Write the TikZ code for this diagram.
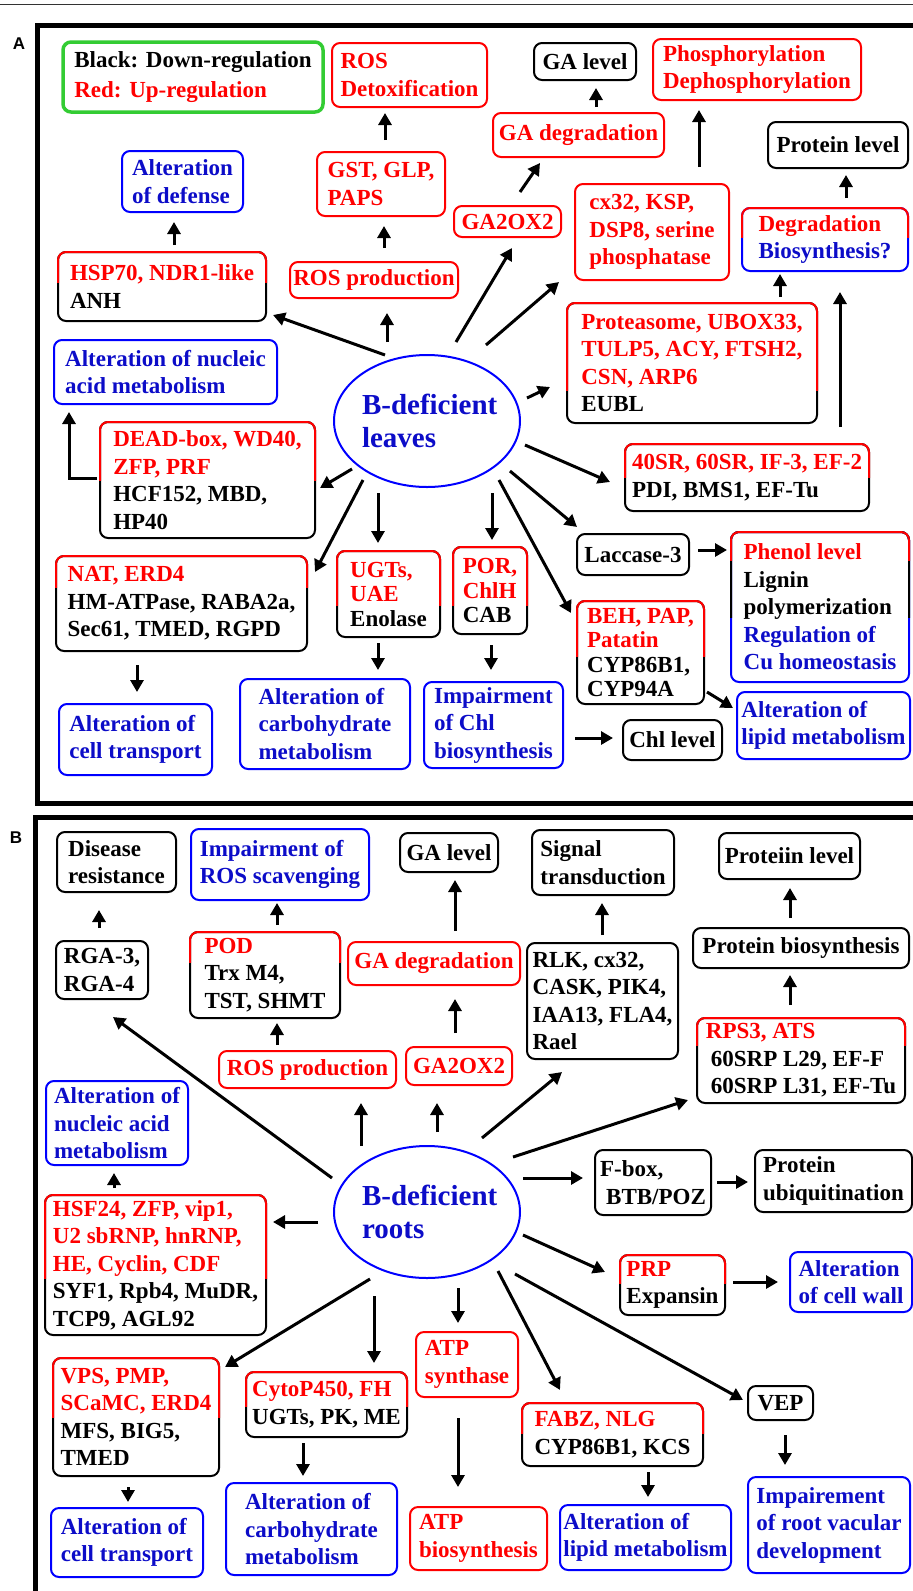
\documentclass[tikz,border=0pt]{standalone}
\usepackage{fontspec}
\setmainfont{Liberation Serif}
\newfontfamily\labfont{Liberation Sans}
\usepackage{tikz}
\usetikzlibrary{arrows.meta,shapes.geometric}
\definecolor{fgRed}{HTML}{FF0000}
\definecolor{fgBlue}{HTML}{0000FF}
\definecolor{fgNavy}{HTML}{0C0CC8}
\definecolor{fgGreen}{HTML}{33CC33}
\newcommand{\rtxt}[1]{\textcolor{fgRed}{#1}}
% recolour the upper part of a box border, down to a given y
\newcommand{\edgetop}[3]{%
  \begin{scope}
    \clip (-10,-10) rectangle (930,#2);
    \draw[rim, #3] (#1.south west) rectangle (#1.north east);
  \end{scope}}

\begin{document}
\begin{tikzpicture}[x=1pt, y=-1pt, font=\fontsize{23}{27.5}\selectfont\bfseries,
  rim/.style={line width=2pt, rounded corners=8pt},
  bx/.style={draw, rim, outer sep=0pt, inner xsep=3pt, inner ysep=1pt, align=left},
  rbx/.style={bx, draw=fgRed, text=fgRed},
  bbx/.style={bx, draw=fgBlue, text=fgNavy},
  kbx/.style={bx, draw=black},
  tight/.style={font=\fontsize{23}{24.5}\selectfont\bfseries},
  sz/.style 2 args={minimum width=#1pt, minimum height=#2pt},
  src/.style={ellipse, draw=fgBlue, line width=2pt, text=fgNavy, align=left, text width=130pt,
    font=\fontsize{29}{33}\selectfont\bfseries, minimum width=186pt, minimum height=132pt,
    inner sep=0pt, outer sep=0pt},
  panel/.style={font=\fontsize{17}{17}\selectfont\labfont\bfseries},
  arr/.style={line width=3pt, -{Triangle[width=13pt,length=12pt]}},
  frame/.style={line width=5pt}]
  \useasboundingbox (0,0) rectangle (913,1591);
  \clip (0,0) rectangle (913,1591);
  \draw[line width=1pt, black!80] (0,4.5) -- (913,4.5);

  % ---------------- panel A: leaves
  \draw[frame] (37.5,25) rectangle (930,803);
  \node[panel] (labA) at (19,44) {A};
  \node[kbx, draw=fgGreen, line width=3.5pt, sz={260}{70}] (legend) at (193,77) {Black: Down-regulation\\[3pt]\rtxt{Red: Up-regulation}};
  \node[rbx, sz={155}{64}] (rosdet) at (409.5,75) {ROS\\Detoxification};
  \node[bbx, sz={121}{61}] (defense) at (182.5,181.5) {Alteration\\of defense};
  \node[rbx, sz={128}{64}] (gst) at (381,184) {GST, GLP,\\PAPS};
  \node[kbx, sz={208}{69}] (hsp) at (162,286.5) {\rtxt{HSP70, NDR1-like}\\ANH};
  \node[rbx, sz={168}{36}] (rosprod) at (374,280) {ROS production};
  \node[bbx, sz={223}{64}] (nucA) at (165.5,372) {Alteration of nucleic\\acid metabolism};
  \node[src] (leaves) at (427,421) {\mbox{B-deficient}\\leaves};
  \node[kbx, sz={102}{37}] (galev) at (585,61.5) {GA level};
  \node[rbx, sz={208}{61}] (phos) at (757,69.5) {Phosphorylation\\Dephosphorylation};
  \node[rbx, sz={171}{44}] (gadeg) at (578.5,135) {GA degradation};
  \node[kbx, sz={140}{46}] (protlev) at (838,145) {Protein level};
  \node[rbx, sz={107}{31}] (ga2ox) at (507.5,221.5) {GA2OX2};
  \node[rbx, sz={154}{96}] (cx) at (652,232) {cx32, KSP,\\DSP8, serine\\phosphatase};
  \node[bbx, sz={166}{63}] (degr) at (825,239.5) {\rtxt{Degradation}\\Biosynthesis?};
  \node[kbx, sz={250}{120}] (protea) at (692,363) {\rtxt{Proteasome, UBOX33,}\\\rtxt{TULP5, ACY, FTSH2,}\\\rtxt{CSN, ARP6}\\EUBL};
  \node[kbx, sz={244}{67}] (forty) at (747,477.5) {\rtxt{40SR, 60SR, IF-3, EF-2}\\PDI, BMS1, EF-Tu};
  \node[kbx, sz={112}{41}] (lacc) at (633,554.5) {Laccase-3};
  \node[bbx, sz={178}{150}] (phenol) at (820,607) {\rtxt{Phenol level}\\\textcolor{black}{Lignin}\\\textcolor{black}{polymerization}\\Regulation of\\Cu homeostasis};
  \node[kbx, tight, sz={74}{87}] (por) at (490,590.5) {\rtxt{POR,}\\\rtxt{ChlH}\\CAB};
  \node[kbx, tight, sz={127}{103}] (beh) at (640.5,652.5) {\rtxt{BEH, PAP,}\\\rtxt{Patatin}\\CYP86B1,\\CYP94A};
  \node[bbx, sz={173}{67}] (lipA) at (823.5,725.5) {Alteration of\\lipid metabolism};
  \node[kbx, sz={99}{40}] (chllev) at (672.5,740) {Chl level};
  \node[bbx, sz={139}{86}] (impChl) at (493.5,725) {Impairment\\of Chl\\biosynthesis};
  \node[kbx, sz={215}{116}] (dead) at (207.5,480) {\rtxt{DEAD-box, WD40,}\\\rtxt{ZFP, PRF}\\HCF152, MBD,\\HP40};
  \node[kbx, sz={251}{95}] (nat) at (181.5,603.5) {\rtxt{NAT, ERD4}\\HM-ATPase, RABA2a,\\Sec61, TMED, RGPD};
  \node[kbx, tight, sz={103}{86}] (ugt) at (388.5,594) {\rtxt{UGTs,}\\\rtxt{UAE}\\Enolase};
  \node[bbx, sz={153}{71}] (transA) at (135.5,739.5) {Alteration of\\cell transport};
  \node[bbx, sz={170}{90}] (carbA) at (325,724) {Alteration of\\carbohydrate\\metabolism};

  \edgetop{hsp}{282}{fgRed}
  \edgetop{degr}{237}{fgRed}
  \edgetop{protea}{390}{fgRed}
  \edgetop{forty}{477}{fgRed}
  \edgetop{phenol}{617}{black}
  \edgetop{phenol}{560}{fgRed}
  \edgetop{por}{605}{fgRed}
  \edgetop{beh}{656}{fgRed}
  \edgetop{dead}{480}{fgRed}
  \edgetop{nat}{587}{fgRed}
  \edgetop{ugt}{605}{fgRed}

  \draw[arr] ([shift={(-42,0)}]leaves.north) -- ([shift={(7,-6)}]hsp.south east);
  \draw[arr] ([shift={(-40,-13)}]leaves.north) -- ([shift={(13,15)}]rosprod.south);
  \draw[arr] ([shift={(10,-14)}]rosprod.north) -- ([shift={(3,10)}]gst.south);
  \draw[arr] ([shift={(4,-12)}]gst.north) -- ([shift={(-24.5,6)}]rosdet.south);
  \draw[arr] ([shift={(12,-7)}]hsp.north) -- ([shift={(-8.5,10)}]defense.south);
  \draw[arr] ([shift={(29,-13)}]leaves.north) -- ([shift={(4.5,11)}]ga2ox.south);
  \draw[arr] ([shift={(12.5,-14)}]ga2ox.north) -- ([shift={(-38.5,6)}]gadeg.south);
  \draw[arr] ([shift={(17.5,-6)}]gadeg.north) -- ([shift={(11,8)}]galev.south);
  \draw[arr] ([shift={(59,-10)}]leaves.north) -- ([shift={(-16,2)}]cx.south west);
  \draw[arr] ([shift={(47,-17)}]cx.north) -- ([shift={(-58,10)}]phos.south);
  \draw[arr] ([shift={(21,-10)}]degr.north) -- ([shift={(8,7)}]protlev.south);
  \draw[arr] ([shift={(88,-6)}]protea.north) -- ([shift={(-45,3)}]degr.south);
  \draw[arr] ([shift={(93,-17)}]forty.north) -- ([shift={(15,21)}]degr.south);
  \draw[arr] ([shift={(7,-23)}]leaves.east) -- ([shift={(-17,24)}]protea.west);
  \draw[arr] ([shift={(5,24)}]leaves.east) -- ([shift={(-15,4.5)}]forty.west);
  \draw[arr] ([shift={(-10,50)}]leaves.east) -- ([shift={(0,-7)}]lacc.north west);
  \draw[arr] ([shift={(-21,59)}]leaves.east) -- ([shift={(-6,12)}]beh.north west);
  \draw[arr] ([shift={(65,6)}]leaves.south) -- ([shift={(2,-7)}]por.north);
  \draw[arr] ([shift={(-49,6)}]leaves.south) -- ([shift={(-10.5,-8)}]ugt.north);
  \draw[arr] ([shift={(18,48)}]leaves.west) -- ([shift={(5,8)}]dead.east);
  \draw[arr] ([shift={(29,59)}]leaves.west) -- ([shift={(8,16)}]nat.north east);
  \draw[arr] ([shift={(-3,-2)}]dead.west) -| ([shift={(-96.5,8)}]nucA.south);
  \draw[arr] ([shift={(-44.5,14)}]nat.south) -- ([shift={(1.5,-12)}]transA.north);
  \draw[arr] ([shift={(-10.5,6)}]ugt.south) -- ([shift={(53,-9)}]carbA.north);
  \draw[arr] ([shift={(1,11)}]por.south) -- ([shift={(-2.5,-12)}]impChl.north);
  \draw[arr] ([shift={(9,-4.5)}]lacc.east) -- ([shift={(-4,-57)}]phenol.west);
  \draw[arr] ([shift={(3,-12)}]beh.south east) -- ([shift={(-4,-17.5)}]lipA.west);
  \draw[arr] ([shift={(12,13)}]impChl.east) -- ([shift={(-10,-2)}]chllev.west);

  % ---------------- panel B: roots
  \draw[frame] (35.5,817) rectangle (930,1600);
  \node[panel] (labB) at (16,838) {B};
  \node[kbx, sz={119}{60}] (disease) at (116.5,862) {Disease\\resistance};
  \node[bbx, sz={178}{71}] (impROS) at (280,864.5) {Impairment of\\ROS scavenging};
  \node[kbx, sz={98}{39}] (galevB) at (449,852.5) {GA level};
  \node[kbx, sz={92}{58}] (rga) at (102,970) {RGA-3,\\RGA-4};
  \node[kbx, sz={150}{86}] (pod) at (265,975) {\rtxt{POD}\\Trx M4,\\TST, SHMT};
  \node[rbx, sz={172}{43}] (gadegB) at (434,963.5) {GA degradation};
  \node[rbx, sz={177}{37}] (rosprodB) at (307.5,1069.5) {ROS production};
  \node[rbx, sz={106}{38}] (ga2oxB) at (459,1066) {GA2OX2};
  \node[bbx, sz={142}{84}] (nucB) at (117,1123) {Alteration of\\nucleic acid\\metabolism};
  \node[src] (roots) at (427,1212) {\mbox{B-deficient}\\roots};
  \node[kbx, sz={142}{65}] (signal) at (603,862.5) {Signal\\transduction};
  \node[kbx, sz={141}{46}] (protlevB) at (789.5,856) {Proteiin level};
  \node[kbx, sz={151}{116}] (rlk) at (602.5,1001) {RLK, cx32,\\CASK, PIK4,\\IAA13, FLA4,\\Rael};
  \node[kbx, sz={216}{40}] (protbio) at (801,948) {Protein biosynthesis};
  \node[kbx, sz={208}{85}] (rps) at (801,1060.5) {\rtxt{RPS3, ATS}\\\hspace{5pt}60SRP L29, EF-F\\\hspace{5pt}60SRP L31, EF-Tu};
  \node[kbx, sz={116}{65}] (fbox) at (653,1182.5) {F-box,\\\hspace{6pt}BTB/POZ};
  \node[kbx, sz={157}{62}] (ubiq) at (833.5,1181) {Protein\\ubiquitination};
  \node[kbx, sz={221}{140}] (hsf) at (155.5,1265) {\rtxt{HSF24, ZFP, vip1,}\\\rtxt{U2 sbRNP, hnRNP,}\\\rtxt{HE, Cyclin, CDF}\\SYF1, Rpb4, MuDR,\\TCP9, AGL92};
  \node[kbx, sz={166}{118}] (vps) at (136,1417) {\rtxt{VPS, PMP,}\\\rtxt{SCaMC, ERD4}\\MFS, BIG5,\\TMED};
  \node[kbx, sz={161}{65}] (cyto) at (326.5,1404.5) {\rtxt{CytoP450, FH}\\UGTs, PK, ME};
  \node[rbx, sz={102}{65}] (atps) at (467,1364.5) {ATP\\synthase};
  \node[bbx, sz={152}{69}] (transB) at (127,1542.5) {Alteration of\\cell transport};
  \node[bbx, sz={171}{92}] (carbB) at (311.5,1529) {Alteration of\\carbohydrate\\metabolism};
  \node[rbx, sz={137}{63}] (atpb) at (478.5,1538.5) {ATP\\biosynthesis};
  \node[kbx, sz={105}{60}] (prp) at (672.5,1285) {\rtxt{PRP}\\Expansin};
  \node[bbx, sz={122}{60}] (wall) at (851,1282) {Alteration\\of cell wall};
  \node[kbx, sz={65}{34}] (vep) at (780.5,1403) {VEP};
  \node[kbx, sz={181}{63}] (fabz) at (612.5,1434.5) {\rtxt{FABZ, NLG}\\CYP86B1, KCS};
  \node[bbx, sz={171}{65}] (lipB) at (645.5,1537.5) {Alteration of\\lipid metabolism};
  \node[bbx, sz={162}{96}] (vasc) at (829,1525) {Impairement\\of root vacular\\development};

  \edgetop{pod}{962}{fgRed}
  \edgetop{rps}{1045}{fgRed}
  \edgetop{hsf}{1278}{fgRed}
  \edgetop{vps}{1417}{fgRed}
  \edgetop{cyto}{1406}{fgRed}
  \edgetop{prp}{1283}{fgRed}
  \edgetop{fabz}{1433}{fgRed}

  \draw[arr] ([shift={(-2,-34)}]roots.west) -- ([shift={(11,18)}]rga.south);
  \draw[arr] ([shift={(-3,-13)}]rga.north) -- ([shift={(-17.5,18)}]disease.south);
  \draw[arr] ([shift={(-30.5,-6)}]rosprodB.north) -- ([shift={(12,5)}]pod.south);
  \draw[arr] ([shift={(12,-7)}]pod.north) -- ([shift={(-3,3)}]impROS.south);
  \draw[arr] ([shift={(-66,0)}]roots.north) -- ([shift={(53.5,15)}]rosprodB.south);
  \draw[arr] ([shift={(10,-14)}]roots.north) -- ([shift={(-22,18)}]ga2oxB.south);
  \draw[arr] ([shift={(-4,-14)}]ga2oxB.north) -- ([shift={(21,14)}]gadegB.south);
  \draw[arr] ([shift={(21,-11)}]gadegB.north) -- ([shift={(6,8)}]galevB.south);
  \draw[arr] ([shift={(55,-8)}]roots.north) -- ([shift={(-40.5,13)}]rlk.south);
  \draw[arr] ([shift={(-0.5,-8)}]rlk.north) -- ([shift={(-1,8)}]signal.south);
  \draw[arr] ([shift={(-7,-55)}]roots.east) -- ([shift={(-9,-3)}]rps.south west);
  \draw[arr] ([shift={(-11,-13)}]rps.north) -- ([shift={(-11,7)}]protbio.south);
  \draw[arr] ([shift={(-11,-10)}]protbio.north) -- ([shift={(0.5,9)}]protlevB.south);
  \draw[arr] ([shift={(3,-34)}]roots.east) -- ([shift={(-12,-4.5)}]fbox.west);
  \draw[arr] ([shift={(6,-0.5)}]fbox.east) -- ([shift={(-7,1)}]ubiq.west);
  \draw[arr] ([shift={(-16,10)}]roots.west) -- ([shift={(7,-43)}]hsf.east);
  \draw[arr] ([shift={(-41.5,-7)}]hsf.north) -- ([shift={(-3,8)}]nucB.south);
  \draw[arr] ([shift={(-57,1)}]roots.south) -- ([shift={(6,9)}]vps.north east);
  \draw[arr] ([shift={(-53,18)}]roots.south) -- ([shift={(47.5,-9)}]cyto.north);
  \draw[arr] ([shift={(31,10)}]roots.south) -- ([shift={(-9,-9)}]atps.north);
  \draw[arr] ([shift={(-9,21)}]atps.south) -- ([shift={(-20.5,-20)}]atpb.north);
  \draw[arr] ([shift={(71,-7)}]roots.south) -- ([shift={(-52.5,-13)}]fabz.north);
  \draw[arr] ([shift={(3,23)}]roots.east) -- ([shift={(-15,-13)}]prp.west);
  \draw[arr] ([shift={(8,-3)}]prp.east) -- ([shift={(-12,0)}]wall.west);
  \draw[arr] ([shift={(-5,62)}]roots.east) -- ([shift={(-5,-3)}]vep.west);
  \draw[arr] ([shift={(4.5,15)}]vep.south) -- ([shift={(-44,-12)}]vasc.north);
  \draw[arr] ([shift={(35.5,6)}]fabz.south) -- ([shift={(2.5,-8)}]lipB.north);
  \draw[arr] ([shift={(-8,11)}]vps.south) -- ([shift={(1,-6)}]transB.north);
  \draw[arr] ([shift={(-23.5,6)}]cyto.south) -- ([shift={(-8.5,-7)}]carbB.north);
\end{tikzpicture}
\end{document}
